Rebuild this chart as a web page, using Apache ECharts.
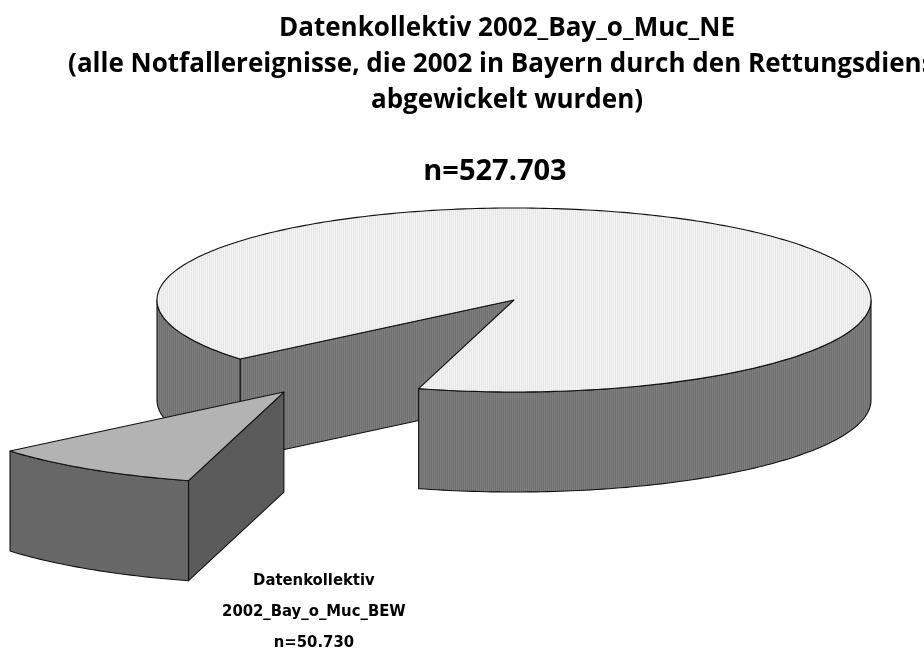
<!DOCTYPE html>
<html><head><meta charset="utf-8">
<script src="https://cdn.jsdelivr.net/npm/echarts@6/dist/echarts.min.js"></script>
<style>html,body{margin:0;padding:0;background:#fff}#main{width:924px;height:652px}</style>
</head><body><div id="main"></div>
<script>
// ---- data ----
const titleLines = [
  'Datenkollektiv 2002_Bay_o_Muc_NE',
  '(alle Notfallereignisse, die 2002 in Bayern durch den Rettungsdienst',
  'abgewickelt wurden)'
];
const totalLabel = 'n=527.703';
const sliceNames = ['Datenkollektiv 2002_Bay_o_Muc_NE (übrige)', 'Datenkollektiv 2002_Bay_o_Muc_BEW'];
const sliceValues = [476973, 50730];
const sliceLabelLines = [[], ['Datenkollektiv', '2002_Bay_o_Muc_BEW', 'n=50.730']];
const sliceExplode = [0, 1.19];

// ---- styles ----
function stripe(c1, c2) {
  const cv = document.createElement('canvas');
  cv.width = 2; cv.height = 4;
  const ctx = cv.getContext('2d');
  ctx.fillStyle = c1; ctx.fillRect(0, 0, 1, 4);
  ctx.fillStyle = c2; ctx.fillRect(1, 0, 1, 4);
  return { image: cv, repeat: 'repeat' };
}
const faceStyles = [
  { top: stripe('#f4f4f4', '#e6e6e6'), side: stripe('#7f7f7f', '#6f6f6f'), cut: stripe('#7f7f7f', '#6f6f6f') },
  { top: '#b3b3b3', side: '#676767', cut: '#5b5b5b' }
];
const START = 140.1;   // screen angle (deg, clockwise from +x) where first slice begins
const DEPTH = 1.087;   // pie thickness in y-units
const sum = sliceValues.reduce((a, b) => a + b, 0);
const starts = [];
let acc = START;
sliceValues.forEach(v => { starts.push(acc); acc += v / sum * 360; });

const rad = d => d * Math.PI / 180;
const titleFont = '"Open Sans", Lato, sans-serif';

function renderItem(params, api) {
  const i = params.dataIndex;
  const v = api.value(1);
  const a1 = starts[i], a2 = a1 + v / sum * 360;
  const mid = rad((a1 + a2) / 2);
  const ox = Math.cos(mid) * sliceExplode[i], oy = Math.sin(mid) * sliceExplode[i];
  const P = (x, y) => api.coord([ox + x, oy + y]);
  const rim = (deg, d) => P(Math.cos(rad(deg)), Math.sin(rad(deg)) + d);
  const st = faceStyles[i];
  const stroke = '#111';
  const lw = 1.1;
  const children = [];
  const poly = (pts, fill) => children.push({
    type: 'polygon', shape: { points: pts },
    style: { fill: fill, stroke: stroke, lineWidth: lw, lineJoin: 'round' }
  });
  // cut faces
  if (Math.sin(rad(a1 - 90)) > 0) poly([P(0, 0), rim(a1, 0), rim(a1, DEPTH), P(0, DEPTH)], st.cut);
  if (Math.sin(rad(a2 + 90)) > 0) poly([P(0, 0), rim(a2, 0), rim(a2, DEPTH), P(0, DEPTH)], st.cut);
  // outer visible side
  for (let k = 0; k < 3; k++) {
    const s = Math.max(a1, 360 * k), e = Math.min(a2, 360 * k + 180);
    if (e > s) {
      const top = [], bot = [];
      const n = Math.max(2, Math.ceil(e - s));
      for (let j = 0; j <= n; j++) {
        const d = s + (e - s) * j / n;
        top.push(rim(d, 0));
        bot.push(rim(d, DEPTH));
      }
      poly(top.concat(bot.reverse()), st.side);
    }
  }
  // top face
  const tp = [P(0, 0)];
  const n = Math.ceil(a2 - a1);
  for (let j = 0; j <= n; j++) tp.push(rim(a1 + (a2 - a1) * j / n, 0));
  poly(tp, st.top);
  // label
  if (sliceLabelLines[i].length) {
    const apex = P(0, 0);
    children.push({
      type: 'text',
      style: {
        x: apex[0] + 30, y: apex[1] + 173,
        text: sliceLabelLines[i].join('\n'),
        align: 'center', verticalAlign: 'top',
        fontFamily: '"Liberation Sans Narrow", "DejaVu Sans Condensed", sans-serif',
        fontWeight: 'bold', fontSize: 16.5, lineHeight: 31, fill: '#000'
      }
    });
  }
  return { type: 'group', children: children };
}

const chart = echarts.init(document.getElementById('main'));
chart.setOption({
  animation: false,
  backgroundColor: '#fff',
  title: [
    {
      text: titleLines.join('\n'), left: 502, top: 6, textAlign: 'center',
      textStyle: { fontFamily: titleFont, fontWeight: 'bold', fontSize: 26, lineHeight: 36, color: '#000' }
    },
    {
      text: totalLabel, left: 490, top: 152, textAlign: 'center',
      textStyle: { fontFamily: titleFont, fontWeight: 'bold', fontSize: 29, color: '#000' }
    }
  ],
  grid: { left: 0, right: 0, top: 0, bottom: 0 },
  xAxis: { type: 'value', min: -514 / 357, max: (924 - 514) / 357, show: false },
  yAxis: { type: 'value', inverse: true, min: -300 / 92, max: (652 - 300) / 92, show: false },
  series: [{
    type: 'custom',
    renderItem: renderItem,
    data: sliceValues.map((v, i) => ({ name: sliceNames[i], value: [i, v] })),
    encode: { x: -1, y: -1 },
    clip: false
  }]
});
</script></body></html>
